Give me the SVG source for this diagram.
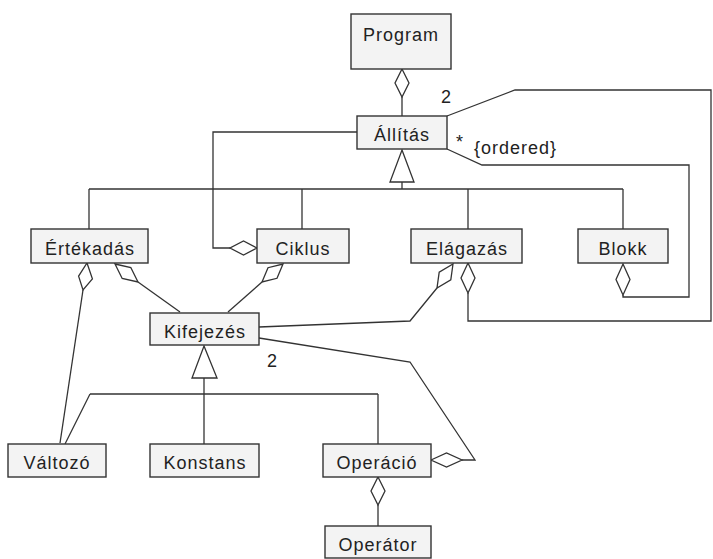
<svg xmlns="http://www.w3.org/2000/svg" width="713" height="559" viewBox="0 0 713 559">
<style>
.box{fill:#f3f3f3;stroke:#333;stroke-width:1.4}
.t{font-family:"Liberation Sans",Arial,sans-serif;font-size:18px;letter-spacing:1px;fill:#222;text-anchor:middle}
.l{font-family:"Liberation Sans",Arial,sans-serif;font-size:18px;letter-spacing:1px;fill:#222}
.c{fill:none;stroke:#333;stroke-width:1.3}
.d{fill:#fff;stroke:#333;stroke-width:1.3}
</style>
<rect width="713" height="559" fill="#fff"/>
<g id="connectors">
<line class="c" x1="402" y1="97" x2="402" y2="116"/>
<polyline class="c" points="357,132 213,132 213,248 230,248"/>
<line class="c" x1="402" y1="182" x2="402" y2="189"/>
<line class="c" x1="89" y1="189" x2="623" y2="189"/>
<line class="c" x1="89" y1="189" x2="89" y2="229"/>
<line class="c" x1="302" y1="189" x2="302" y2="229"/>
<line class="c" x1="468" y1="189" x2="468" y2="229"/>
<line class="c" x1="623" y1="189" x2="623" y2="229"/>
<polyline class="c" points="447,116 515,90 711,90 711,321 468,321 468,293"/>
<polyline class="c" points="447,149 482,165 689,165 689,297 623,297 623,295"/>
<line class="c" x1="83" y1="290" x2="60" y2="443"/>
<line class="c" x1="138" y1="282" x2="180" y2="312"/>
<line class="c" x1="262" y1="282" x2="228" y2="312"/>
<polyline class="c" points="437,288 410,321 259,327"/>
<polyline class="c" points="259,338 410,362 475,460 462,460"/>
<line class="c" x1="204" y1="378" x2="204" y2="444"/>
<line class="c" x1="90" y1="394" x2="378" y2="394"/>
<line class="c" x1="90" y1="394" x2="65" y2="444"/>
<line class="c" x1="378" y1="394" x2="378" y2="444"/>
<line class="c" x1="378" y1="505" x2="378" y2="526"/>
<polygon class="d" points="402,150 414,182 390,182"/>
<polygon class="d" points="204,346 217,378 192,378"/>
<polygon class="d" points="402,69 409,83 402,97 395,83"/>
<polygon class="d" points="257,248 243.5,241 230,248 243.5,255"/>
<polygon class="d" points="468,263 475,278 468,293 461,278"/>
<polygon class="d" points="623,264 630,279.5 623,295 616,279.5"/>
<polygon class="d" points="87,263 92.4,278.9 83,290 78.6,276.1"/>
<polygon class="d" points="115,264 130.8,267.5 138,282 122.2,278.5"/>
<polygon class="d" points="283,264 277,278.3 262,282 268,267.7"/>
<polygon class="d" points="453,264 450.8,279.9 437,288 439.2,272.1"/>
<polygon class="d" points="431,460 446.5,453 462,460 446.5,467"/>
<polygon class="d" points="378,477 385,491 378,505 371,491"/>
</g>
<g id="labels">
<text class="l" x="441" y="103">2</text>
<text class="l" x="456" y="148">*</text>
<text class="l" x="474" y="154">{ordered}</text>
<text class="l" x="267" y="367">2</text>
</g>
<g id="Program"><rect class="box" x="351" y="14" width="100" height="55"/><text class="t" x="401" y="41">Program</text></g>
<g id="Allitas"><rect class="box" x="357" y="116" width="90" height="33"/><text class="t" x="402" y="141">Állítás</text></g>
<g id="Ertekadas"><rect class="box" x="31" y="229" width="117" height="34"/><text class="t" x="90" y="255">Értékadás</text></g>
<g id="Ciklus"><rect class="box" x="257" y="229" width="92" height="34"/><text class="t" x="303" y="255">Ciklus</text></g>
<g id="Elagazas"><rect class="box" x="411" y="229" width="111" height="34"/><text class="t" x="467" y="255">Elágazás</text></g>
<g id="Blokk"><rect class="box" x="578" y="229" width="90" height="34"/><text class="t" x="623" y="255">Blokk</text></g>
<g id="Kifejezes"><rect class="box" x="150" y="313" width="109" height="32"/><text class="t" x="205" y="338">Kifejezés</text></g>
<g id="Valtozo"><rect class="box" x="8" y="444" width="98" height="33"/><text class="t" x="57" y="469">Változó</text></g>
<g id="Konstans"><rect class="box" x="150" y="444" width="109" height="33"/><text class="t" x="205" y="469">Konstans</text></g>
<g id="Operacio"><rect class="box" x="323" y="444" width="108" height="33"/><text class="t" x="377" y="469">Operáció</text></g>
<g id="Operator"><rect class="box" x="325" y="526" width="106" height="32"/><text class="t" x="378" y="551">Operátor</text></g>
</svg>
